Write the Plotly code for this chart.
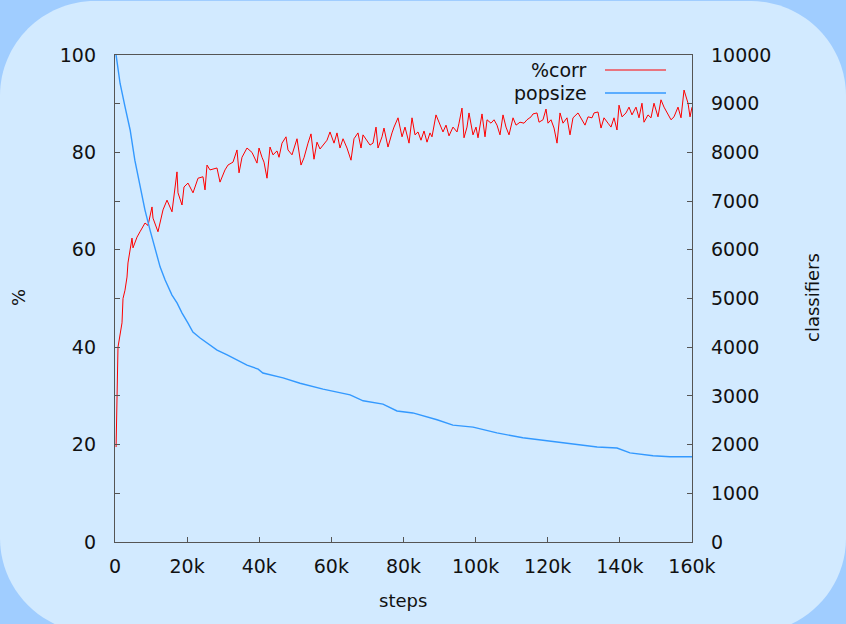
import plotly.graph_objects as go

# ---- data ----
corr_steps = [300, 550, 700, 830, 1940, 2220, 2770, 3330, 3600, 4440, 4710, 4990, 6100, 6930, 7760, 8320,
              9150, 10260, 10540, 11920, 13310, 14420, 15810, 16360, 17190, 17470, 18580, 19130, 20240,
              21630, 23020, 24400, 24960, 25510, 26340, 28280, 29120, 30500, 31330, 32720, 33830, 34390,
              35220, 36600, 37990, 39380, 39930,
              40760, 41320, 42150, 42980, 43810, 44920, 45480, 46310, 47420, 47970, 49080, 50470, 51580,
              52410, 53520, 54350, 55180, 56010, 56850, 57680, 58790, 59620, 60730, 61560, 62390, 63230,
              64330, 65440, 66270, 67380, 68220, 68770, 70160, 70710, 71540, 72380, 72930, 74040, 74590,
              75700, 76810, 77370, 78480, 79590, 80420,
              81530, 82360, 83190, 84020, 84850, 85690, 86520, 87350, 87900, 89010, 89850, 90950, 91790,
              92620, 93730, 94840, 95390, 96220, 96780, 97610, 98160, 99270, 100110, 100660, 101770,
              102600, 103160, 104260, 105100, 105930, 106760, 107590, 108420, 109260, 110370, 111200,
              112310, 113420, 114250, 115360, 115910, 117020, 117580, 118680, 119520,
              120070, 120900, 121740, 122570, 123400, 124230, 125340, 126170, 127000, 128390, 129500,
              130330, 131160, 132270, 132830, 133940, 134770, 135600, 136710, 137540, 138370, 139200,
              139760, 140590, 141700, 142530, 143360, 144470, 145300, 146130, 146690, 147800, 148630,
              149460, 150570, 151400, 152240, 153350, 154180, 155010, 156120, 156950, 157790, 158900,
              159450, 160000]
corr_pct = [19.5, 29.5, 39.4, 40.0, 45.0, 50.0, 51.7, 54.4, 57.3, 60.6, 62.4, 60.4, 62.6, 63.7, 64.7, 65.5,
            65.0, 68.8, 66.5, 63.7, 68.2, 70.2, 67.8, 70.8, 76.0, 71.7, 69.2, 72.9, 73.7,
            71.7, 74.7, 75.0, 72.3, 77.4, 76.4, 76.8, 73.9, 76.4, 77.4, 78.0, 80.5, 75.8,
            79.0, 80.9, 80.0, 77.8, 80.9,
            79.0, 78.0, 74.7, 81.1, 79.5, 80.3, 79.0, 81.9, 83.2, 80.5, 79.5, 82.8, 77.4,
            78.9, 81.9, 83.8, 78.6, 82.1, 80.7, 81.5, 82.5, 84.2, 81.9, 84.0, 80.9, 82.8,
            80.9, 78.4, 82.8, 84.0, 80.9, 83.6, 82.1, 81.5, 81.9, 85.2, 80.9, 83.2, 85.0,
            81.1, 84.0, 85.2, 87.1, 83.2, 85.2,
            81.9, 87.1, 83.6, 84.2, 82.5, 84.4, 82.1, 84.0, 83.2, 87.7, 86.2, 84.2, 85.6,
            83.4, 85.2, 84.2, 86.0, 89.1, 83.0, 85.2, 88.1, 83.6, 85.2, 83.0, 87.9,
            83.2, 86.7, 86.0, 86.7, 85.6, 83.6, 87.7, 85.2, 83.6, 87.1, 85.6,
            86.2, 86.0, 86.7, 87.3, 87.9, 88.1, 86.2, 86.7, 88.9,
            86.0, 86.7, 85.0, 81.9, 88.1, 86.0, 87.1, 83.6, 87.1, 88.1, 86.7,
            85.6, 87.3, 87.1, 88.1, 88.3, 85.0, 87.1, 86.0, 85.2, 87.1, 84.6,
            89.7, 87.3, 88.1, 89.3, 87.7, 89.3, 87.1, 90.1, 86.2, 87.7, 87.1,
            90.1, 87.3, 90.8, 89.3, 87.7, 86.7, 87.3, 89.3, 87.1, 92.8, 90.1,
            87.3, 89.3]

pop_steps = [300, 1400, 2800, 4200, 5500, 6900, 8300, 9700, 11100, 12500, 13900, 15800, 17200, 18600,
             20200, 21600, 23600, 25500, 28300, 31100, 33800, 36600, 39700, 41000, 46600, 51300, 57700,
             65200, 68800, 74300, 78200, 82600, 89300, 93700, 99300, 105900, 113100, 120600, 126200,
             133700, 139200, 142800, 149200, 153900, 160000]
pop_size = [10000, 9420, 8930, 8460, 7840, 7290, 6820, 6410, 6000, 5650, 5380, 5070, 4910, 4700,
            4500, 4310, 4190, 4090, 3940, 3840, 3740, 3630, 3550, 3470, 3370, 3260, 3140,
            3020, 2900, 2830, 2690, 2650, 2510, 2400, 2360, 2240, 2140, 2070, 2030,
            1950, 1930, 1830, 1770, 1750, 1750]

x_tickvals = [0, 20000, 40000, 60000, 80000, 100000, 120000, 140000, 160000]
x_ticktext = ["0", "20k", "40k", "60k", "80k", "100k", "120k", "140k", "160k"]
y_tickvals = [0, 20, 40, 60, 80, 100]
y2_tickvals = [0, 1000, 2000, 3000, 4000, 5000, 6000, 7000, 8000, 9000, 10000]
y2_ticktext = ["0", "1000", "2000", "3000", "4000", "5000", "6000", "7000", "8000", "9000", "10000"]
series_names = ["%corr", "popsize"]
series_colors = ["rgb(255,0,0)", "rgb(51,153,255)"]

# ---- layout geometry ----
W, H = 846, 624
L, R, T, B = 115, 692, 55, 542
PW, PH = R - L, B - T
INNER = "#d2eaff"
OUTER = "#a0cdff"
FONT = "DejaVu Sans"
AXC = "#555555"
TXT = "#111111"
FS = 19


def px(xp, yp):
    return ((xp - L) / PW, (B - yp) / PH)


def rounded_path(x0, y0, x1, y1, r):
    k = 0.5523 * r
    pts = [
        ("M", [(x0 + r, y0)]),
        ("L", [(x1 - r, y0)]),
        ("C", [(x1 - r + k, y0), (x1, y0 + r - k), (x1, y0 + r)]),
        ("L", [(x1, y1 - r)]),
        ("C", [(x1, y1 - r + k), (x1 - r + k, y1), (x1 - r, y1)]),
        ("L", [(x0 + r, y1)]),
        ("C", [(x0 + r - k, y1), (x0, y1 - r + k), (x0, y1 - r)]),
        ("L", [(x0, y0 + r)]),
        ("C", [(x0, y0 + r - k), (x0 + r - k, y0), (x0 + r, y0)]),
    ]
    s = ""
    for cmd, ps in pts:
        s += cmd + " " + " ".join("%.5f,%.5f" % px(a, b) for a, b in ps) + " "
    return s + "Z"


fig = go.Figure()
fig.add_trace(go.Scatter(x=corr_steps, y=corr_pct, mode="lines", name=series_names[0],
                         line=dict(color=series_colors[0], width=1), yaxis="y"))
fig.add_trace(go.Scatter(x=pop_steps, y=pop_size, mode="lines", name=series_names[1],
                         line=dict(color=series_colors[1], width=1.4), yaxis="y2"))

shapes = [dict(type="path", xref="paper", yref="paper", path=rounded_path(0, 1, 846, 633, 95),
               fillcolor=INNER, line=dict(width=0), layer="below")]
annotations = []
# legend drawn manually (text left of line sample)
for i, (nm, col) in enumerate(zip(series_names, series_colors)):
    ly = 70 + 23 * i
    x0p, y0p = px(605, ly)
    x1p, _ = px(666, ly)
    shapes.append(dict(type="line", xref="paper", yref="paper", x0=x0p, x1=x1p, y0=y0p, y1=y0p,
                       line=dict(color=col, width=1.4 if i else 1)))
    tx, ty = px(589, ly)
    annotations.append(dict(xref="paper", yref="paper", x=tx, y=ty, text=nm, showarrow=False,
                            xanchor="right", yanchor="middle", font=dict(family=FONT, size=FS, color=TXT)))
# axis titles
for text, (cx, cy), ang in [("%", (18, 298), -90), ("classifiers", (812, 298), -90), ("steps", (403, 600), 0)]:
    ax, ay = px(cx, cy)
    annotations.append(dict(xref="paper", yref="paper", x=ax, y=ay, text=text, textangle=ang,
                            showarrow=False, xanchor="center", yanchor="middle",
                            font=dict(family=FONT, size=18, color=TXT)))

fig.update_layout(
    width=W, height=H,
    margin=dict(l=L, r=W - R, t=T, b=H - B),
    paper_bgcolor=OUTER, plot_bgcolor=INNER,
    showlegend=False,
    font=dict(family=FONT, size=FS, color=TXT),
    shapes=shapes, annotations=annotations,
    xaxis=dict(range=[0, 160000], tickvals=x_tickvals, ticktext=x_ticktext, ticks="inside", ticklen=5,
               tickcolor=AXC, showline=True, linecolor=AXC, linewidth=1.3, mirror=True, showgrid=False,
               zeroline=False, ticklabelstandoff=7, tickfont=dict(family=FONT, size=FS, color=TXT)),
    yaxis=dict(range=[0, 100], tickvals=y_tickvals, ticks="inside", ticklen=5, tickcolor=AXC,
               minor=dict(dtick=10, ticks="inside", ticklen=5, tickcolor=AXC, showgrid=False),
               showline=True, linecolor=AXC, linewidth=1.3, mirror=True, showgrid=False, zeroline=False,
               ticklabelstandoff=14, tickfont=dict(family=FONT, size=FS, color=TXT)),
    yaxis2=dict(range=[0, 10000], tickvals=y2_tickvals, ticktext=y2_ticktext, overlaying="y", side="right",
                ticks="inside", ticklen=5, tickcolor=AXC, showline=False, showgrid=False, zeroline=False,
                ticklabelstandoff=18, tickfont=dict(family=FONT, size=FS, color=TXT)),
)

fig.write_html("out.html")
